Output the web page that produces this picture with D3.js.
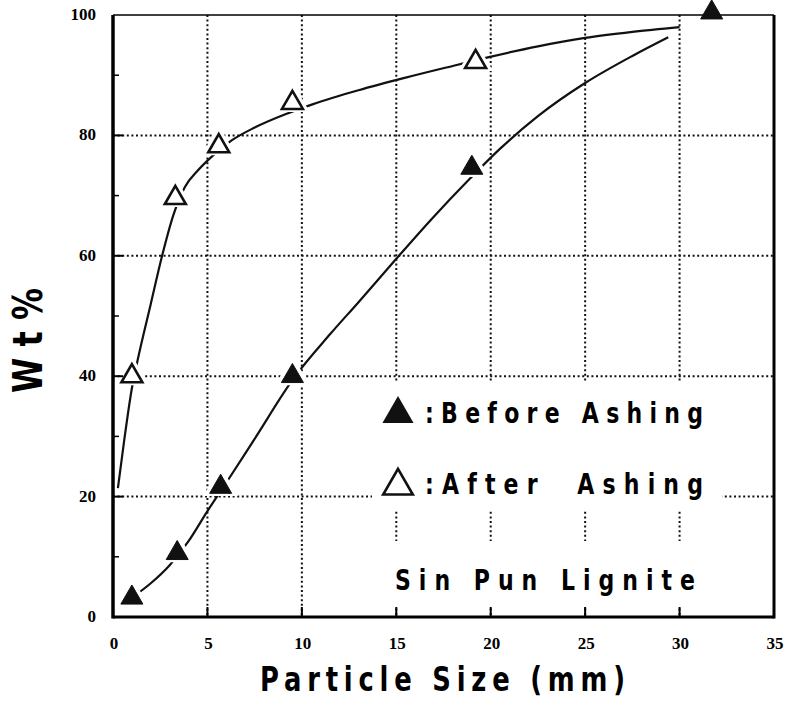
<!DOCTYPE html>
<html>
<head>
<meta charset="utf-8">
<script src="https://cdnjs.cloudflare.com/ajax/libs/d3/7.8.5/d3.min.js"></script>
<style>
  body { margin: 0; background: #fff; }
  svg { display: block; }
</style>
</head>
<body>
<div class="chart"></div>
<script>
// size of the page
const w = 786;
const h = 704;

// axis ticks
const xTicks = [0, 5, 10, 15, 20, 25, 30, 35];
const yTicks = [0, 20, 40, 60, 80, 100];
const yMinor = [10, 30, 50, 70, 90];

// measured points (particle size mm, wt %)
const beforeX = [1.0, 3.4, 5.7, 9.5, 19.0, 31.7];
const beforeY = [3.2, 10.6, 21.6, 40.0, 74.6, 100.4];
const afterX = [1.0, 3.3, 5.6, 9.5, 19.2];
const afterY = [40.0, 69.6, 78.2, 85.4, 92.2];

// hand drawn fit curves
const beforeCurveX = [1.0, 2.0, 3.0, 4.0, 5.0, 6.1, 7.5, 9.6, 11.5, 13.0, 15.0, 16.9, 18.8, 20.5, 22.5, 25.0, 27.5, 29.4];
const beforeCurveY = [3.2, 5.6, 8.6, 12.6, 17.6, 22.8, 29.6, 39.8, 47.0, 52.3, 59.5, 66.2, 72.5, 77.8, 83.2, 88.7, 93.2, 96.3];
const afterCurveX = [0.26, 0.6, 1.0, 1.3, 2.0, 2.6, 3.2, 3.8, 4.5, 5.2, 6.3, 7.5, 9.2, 10.6, 13.0, 15.5, 18.2, 19.9, 22.5, 25.0, 27.5, 30.0];
const afterCurveY = [21.4, 29.5, 38.0, 42.6, 52.0, 60.0, 66.8, 71.4, 74.2, 76.4, 79.2, 81.3, 83.6, 85.2, 87.5, 89.6, 91.7, 93.0, 94.8, 96.2, 97.2, 98.0];

const svg = d3.select(".chart").append("svg")
  .attr("width", w)
  .attr("height", h);

const xScale = d3.scaleLinear().domain([0, 35]).range([113, 774]);
const yScale = d3.scaleLinear().domain([0, 100]).range([617, 15]);

const x0 = xScale(0), x1 = xScale(35);
const y0 = yScale(0), y1 = yScale(100);

// dotted grid
const grid = svg.append("g")
  .attr("stroke", "#111")
  .attr("stroke-width", 2)
  .attr("stroke-dasharray", "2,2.6");

grid.selectAll("line.vx")
  .data(xTicks.filter(d => d > 0 && d < 35))
  .enter().append("line")
  .attr("x1", d => xScale(d)).attr("x2", d => xScale(d))
  .attr("y1", y1).attr("y2", y0);

grid.selectAll("line.hy")
  .data(yTicks.filter(d => d > 0 && d < 100))
  .enter().append("line")
  .attr("x1", x0).attr("x2", x1)
  .attr("y1", d => yScale(d)).attr("y2", d => yScale(d));

// white patches behind the legend text
svg.append("rect").attr("x", 372).attr("y", 381).attr("width", 350).attr("height", 129).attr("fill", "#fff");
svg.append("rect").attr("x", 372).attr("y", 541).attr("width", 350).attr("height", 67).attr("fill", "#fff");

// fit curves
const line = d3.line()
  .x(d => xScale(d[0]))
  .y(d => yScale(d[1]))
  .curve(d3.curveMonotoneX);

svg.append("path")
  .attr("d", line(d3.zip(beforeCurveX, beforeCurveY)))
  .attr("fill", "none").attr("stroke", "#111").attr("stroke-width", 2.2);

svg.append("path")
  .attr("d", line(d3.zip(afterCurveX, afterCurveY)))
  .attr("fill", "none").attr("stroke", "#111").attr("stroke-width", 2.2);

const tri = d3.symbol().type(d3.symbolTriangle);

// white halos, so the curves stop short of each marker
const allPts = d3.zip(beforeX, beforeY).concat(d3.zip(afterX, afterY));
svg.selectAll("path.halo")
  .data(allPts)
  .enter().append("path")
  .attr("d", tri.size(520)())
  .attr("transform", d => `translate(${xScale(d[0])},${yScale(d[1]) - 1})`)
  .attr("fill", "#fff");

// frame
svg.append("line").attr("x1", x0).attr("x2", x0).attr("y1", y1).attr("y2", y0 + 1.5)
  .attr("stroke", "#000").attr("stroke-width", 3.5);
svg.append("line").attr("x1", x0).attr("x2", x1).attr("y1", y0).attr("y2", y0)
  .attr("stroke", "#000").attr("stroke-width", 3);
svg.append("line").attr("x1", x1).attr("x2", x1).attr("y1", y1).attr("y2", y0 + 1.5)
  .attr("stroke", "#000").attr("stroke-width", 3);
svg.append("line").attr("x1", x0).attr("x2", x1).attr("y1", y1).attr("y2", y1)
  .attr("stroke", "#000").attr("stroke-width", 1.6);

// inward ticks
svg.append("g").selectAll("line")
  .data(yTicks.filter(d => d > 0 && d < 100))
  .enter().append("line")
  .attr("x1", x0).attr("x2", x0 + 10)
  .attr("y1", d => yScale(d)).attr("y2", d => yScale(d))
  .attr("stroke", "#000").attr("stroke-width", 2);
svg.append("g").selectAll("line")
  .data(yMinor)
  .enter().append("line")
  .attr("x1", x0).attr("x2", x0 + 6)
  .attr("y1", d => yScale(d)).attr("y2", d => yScale(d))
  .attr("stroke", "#000").attr("stroke-width", 1.5);
svg.append("g").selectAll("line")
  .data(xTicks.filter(d => d > 0 && d < 35))
  .enter().append("line")
  .attr("x1", d => xScale(d)).attr("x2", d => xScale(d))
  .attr("y1", y0).attr("y2", y0 - 10)
  .attr("stroke", "#000").attr("stroke-width", 2);

// markers
svg.selectAll("path.before")
  .data(d3.zip(beforeX, beforeY))
  .enter().append("path")
  .attr("d", tri.size(210)())
  .attr("transform", d => `translate(${xScale(d[0])},${yScale(d[1])})`)
  .attr("fill", "#111").attr("stroke", "#111").attr("stroke-width", 1);

svg.selectAll("path.after")
  .data(d3.zip(afterX, afterY))
  .enter().append("path")
  .attr("d", tri.size(190)())
  .attr("transform", d => `translate(${xScale(d[0])},${yScale(d[1])})`)
  .attr("fill", "#fff").attr("stroke", "#111").attr("stroke-width", 2.6)
  .attr("stroke-linejoin", "miter");

// tick labels
const numFont = "'Liberation Serif', 'DejaVu Serif', serif";
svg.append("g").selectAll("text")
  .data(xTicks)
  .enter().append("text")
  .attr("x", d => xScale(d) + 1)
  .attr("y", 649)
  .attr("text-anchor", "middle")
  .attr("font-family", numFont).attr("font-weight", "bold").attr("font-size", 17)
  .text(d => d);

svg.append("g").selectAll("text")
  .data(yTicks)
  .enter().append("text")
  .attr("x", 96)
  .attr("y", d => yScale(d) + 5)
  .attr("text-anchor", "end")
  .attr("font-family", numFont).attr("font-weight", "bold").attr("font-size", 17)
  .text(d => d);

// narrow, widely spaced lettering: squeeze the glyphs, keep the full width
const txtFont = "'DejaVu Sans', 'Liberation Sans', sans-serif";
function narrowText(x, y, str, size, width, sx, rot) {
  const g = svg.append("g")
    .attr("transform", `translate(${x},${y})` + (rot ? ` rotate(${rot})` : "") + ` scale(${sx},1)`);
  g.append("text")
    .attr("x", 0).attr("y", 0)
    .attr("textLength", width / sx).attr("lengthAdjust", "spacing")
    .attr("font-family", txtFont).attr("font-weight", "bold").attr("font-size", size)
    .style("white-space", "pre")
    .text(str);
}

// axis titles
narrowText(260, 691, "Particle Size (mm)", 34, 365, 0.76);
narrowText(42, 393, "W t %", 40, 105, 0.8, -90);

// legend
svg.append("path")
  .attr("d", tri.size(420)())
  .attr("transform", "translate(398,414)")
  .attr("fill", "#111");
narrowText(425, 423, ":Before Ashing", 29, 278, 0.76);

svg.append("path")
  .attr("d", tri.size(380)())
  .attr("transform", "translate(398,486)")
  .attr("fill", "#fff").attr("stroke", "#111").attr("stroke-width", 2.6);
narrowText(425, 494, ":After  Ashing", 29, 278, 0.76);

narrowText(395, 590, "Sin Pun Lignite", 29, 300, 0.76);
</script>
</body>
</html>
